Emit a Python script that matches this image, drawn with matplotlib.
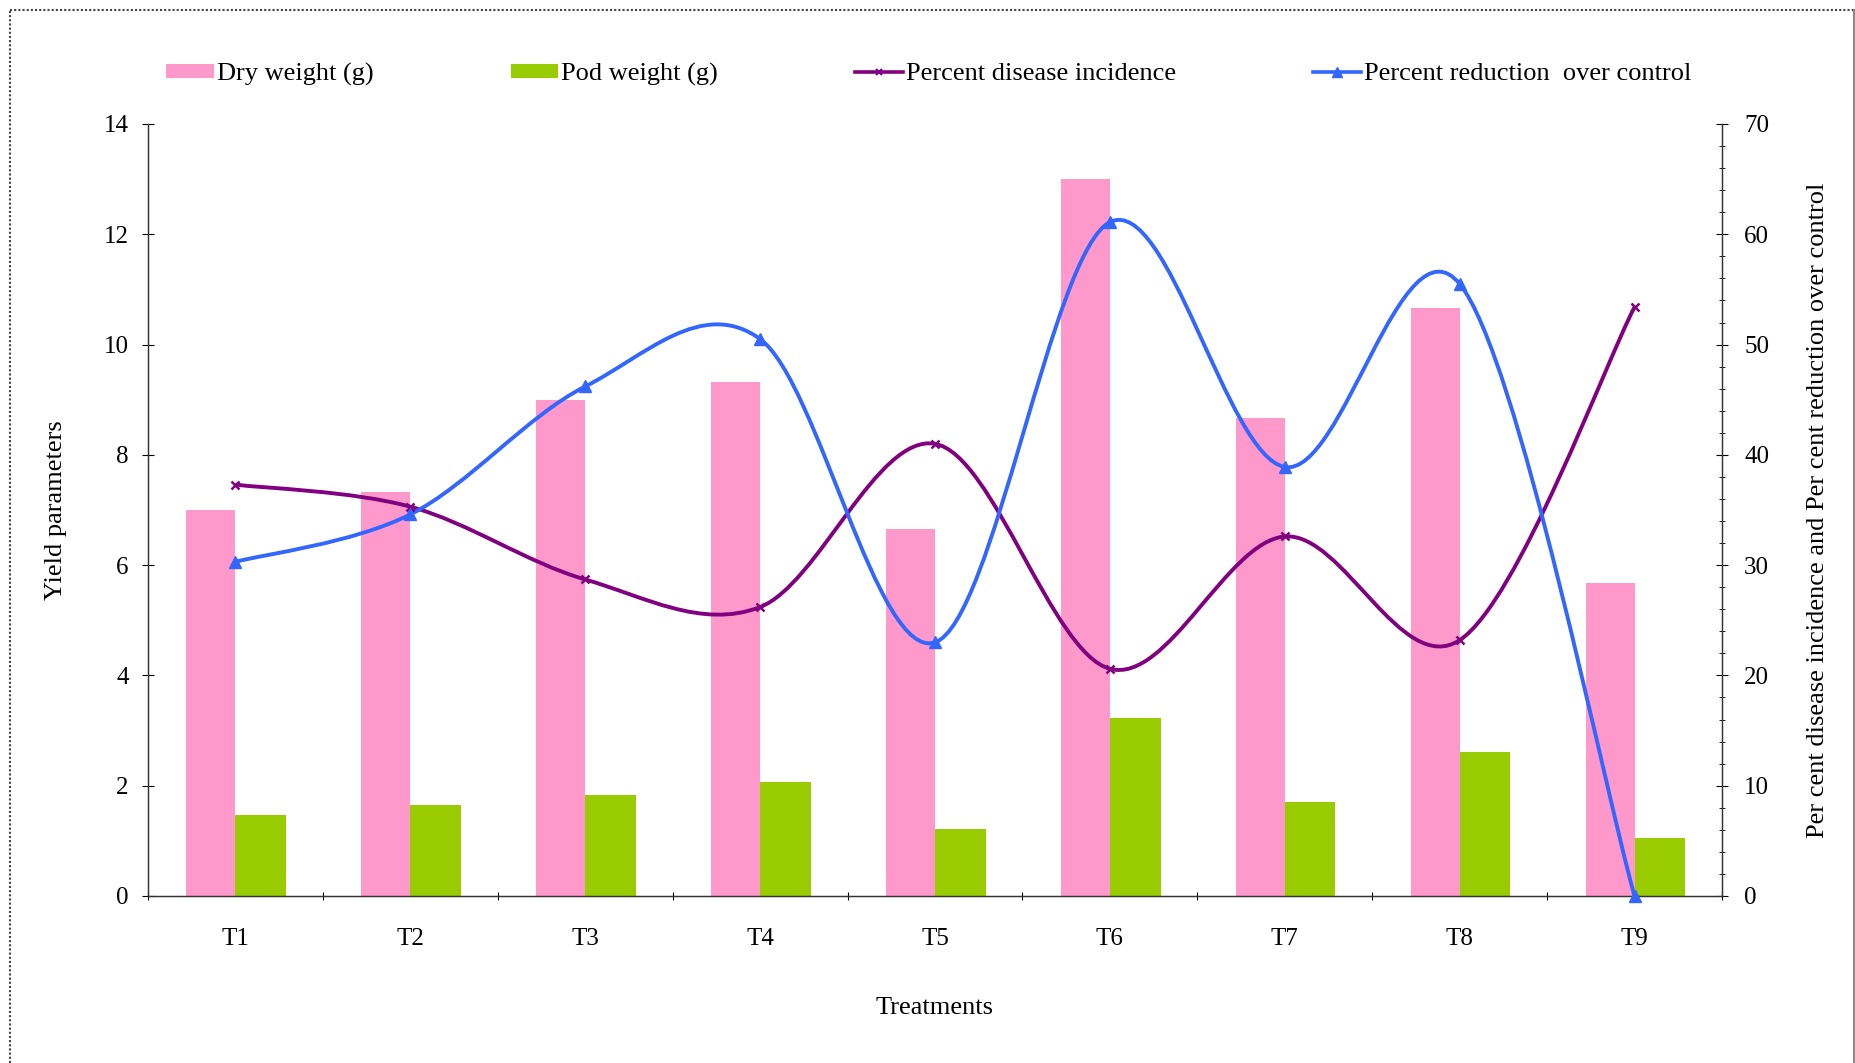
import matplotlib
matplotlib.use("Agg")
import matplotlib.pyplot as plt
from matplotlib.path import Path
from matplotlib.patches import PathPatch, Patch
from matplotlib.lines import Line2D
import numpy as np

# ---- data ----
treatments = ["T1", "T2", "T3", "T4", "T5", "T6", "T7", "T8", "T9"]
dry_weight = [7.0, 7.33, 9.0, 9.32, 6.66, 13.0, 8.67, 10.67, 5.67]
pod_weight = [1.46, 1.65, 1.83, 2.06, 1.22, 3.22, 1.70, 2.62, 1.05]
disease_incidence = [37.3, 35.3, 28.7, 26.2, 41.0, 20.6, 32.6, 23.2, 53.4]
reduction_over_control = [30.3, 34.6, 46.2, 50.5, 23.0, 61.1, 38.9, 55.5, 0.0]

pink = "#FF99CC"
green = "#99CC00"
purple = "#800080"
blue = "#3366FF"

plt.rcParams['font.family'] = ['Liberation Serif', 'DejaVu Serif']
FS = 19
TFS = 18

W, H = 1856, 1063
fig = plt.figure(figsize=(W / 100, H / 100), dpi=100)
ax = fig.add_axes([148 / W, 1 - 896 / H, (1722 - 148) / W, (896 - 124) / H])
ax2 = ax.twinx()

x = np.arange(len(treatments))
bw = 0.28
ax.bar(x - bw, dry_weight, width=bw, align='edge', color=pink, zorder=2)
ax.bar(x, pod_weight, width=bw + 0.01, align='edge', color=green, zorder=2)


def smooth_path(xs, ys):
    pts = np.column_stack([xs, ys]).astype(float)
    n = len(pts)
    verts = [pts[0]]
    codes = [Path.MOVETO]
    for i in range(n - 1):
        p0 = pts[i - 1] if i > 0 else pts[i]
        p1 = pts[i]
        p2 = pts[i + 1]
        p3 = pts[i + 2] if i + 2 < n else pts[i + 1]
        c1 = p1 + (p2 - p0) / 6.0
        c2 = p2 - (p3 - p1) / 6.0
        verts += [c1, c2, p2]
        codes += [Path.CURVE4] * 3
    return Path(verts, codes)


for ys, col in [(disease_incidence, purple), (reduction_over_control, blue)]:
    ax2.add_patch(PathPatch(smooth_path(x, ys), facecolor='none', edgecolor=col,
                            lw=2.8, zorder=3, clip_on=False))

ax2.plot(x, disease_incidence, linestyle='none', marker='x', color=purple,
         ms=6, mew=1.8, zorder=4)
ax2.plot(x, reduction_over_control, linestyle='none', marker='^', color=blue,
         ms=8, zorder=4, clip_on=False)

ax.set_xlim(-0.5, len(treatments) - 0.5)
ax.set_ylim(0, 14)
ax.set_yticks(np.arange(0, 15, 2))
ax2.set_ylim(0, 70)
ax2.set_yticks(np.arange(0, 71, 10))
ax2.set_yticks(np.arange(0, 71, 2), minor=True)

# x ticks: marks at category boundaries, labels at centers
ax.set_xticks(np.arange(-0.5, len(treatments)), minor=True)
ax.set_xticks(x)
ax.set_xticklabels(treatments, fontsize=TFS)
ax.tick_params(axis='x', which='major', length=0, pad=23)
ax.tick_params(axis='x', which='minor', length=6, direction='inout', width=0.8)
ax.tick_params(axis='y', which='major', labelsize=TFS, length=8, direction='inout', pad=10)
ax2.tick_params(axis='y', which='major', labelsize=TFS, length=8, direction='inout', pad=12)
ax2.tick_params(axis='y', which='minor', length=4, direction='inout', width=0.6)

for a in (ax, ax2):
    a.spines['top'].set_visible(False)
    for s in ('left', 'right', 'bottom'):
        a.spines[s].set_linewidth(0.9)
        a.spines[s].set_color('#333333')

ax.set_ylabel("Yield parameters", fontsize=FS, labelpad=26)
ax2.set_ylabel("Per cent disease incidence and Per cent reduction over control",
               fontsize=FS, rotation=90, labelpad=27)
ax.set_xlabel("Treatments", fontsize=FS, labelpad=34)

handles = [
    Patch(facecolor=pink, edgecolor='none'),
    Patch(facecolor=green, edgecolor='none'),
    Line2D([], [], color=purple, lw=2.6, marker='x', ms=5, mew=1.5),
    Line2D([], [], color=blue, lw=2.6, marker='^', ms=7),
]
labels = ["Dry weight (g)", "Pod weight (g)", "Percent disease incidence",
          "Percent reduction  over control"]
fig.legend(handles, labels, loc='center left', bbox_to_anchor=(166 / W, 1 - 74 / H),
           ncol=4, frameon=False, fontsize=FS, handlelength=1.8, handleheight=0.45,
           handletextpad=0.12, columnspacing=5.2, borderpad=0, borderaxespad=0)

# figure border
fig.add_artist(Line2D([10 / W, 10 / W], [0, 1 - 10 / H], transform=fig.transFigure,
                      color='#444444', lw=1.5, ls=(0, (1, 1))))
fig.add_artist(Line2D([10 / W, 1853 / W], [1 - 10 / H, 1 - 10 / H], transform=fig.transFigure,
                      color='#444444', lw=1.5, ls=(0, (1, 1))))
fig.add_artist(Line2D([1854 / W, 1854 / W], [0, 1 - 10 / H], transform=fig.transFigure,
                      color='#888888', lw=1.5))

fig.savefig("out.png", dpi=100)
